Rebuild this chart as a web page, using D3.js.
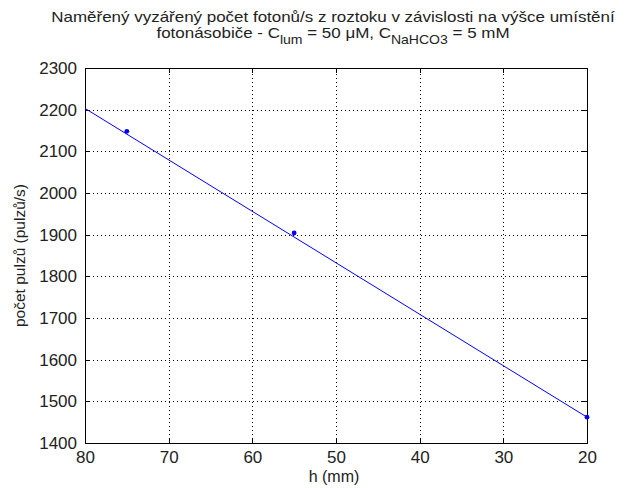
<!DOCTYPE html>
<meta charset="utf-8">
<head>
<script src="https://d3js.org/d3.v7.min.js"></script>
<style>
body { margin: 0; background: #fff; }
svg { font-family: "Liberation Sans", Arial, sans-serif; }
.grid line { stroke: #000; stroke-dasharray: 1,3; stroke-width: 1px; shape-rendering: crispEdges; }
.grid path { stroke-width: 0; }
.axis path, .axis line { stroke: #000; shape-rendering: crispEdges; }
.axis text { font-size: 17px; fill: #222; }
</style>
</head>
<body>
<svg></svg>
<script>
// measured points
var h_vals = [75, 55, 20];
var count_vals = [2148, 1904, 1462];
// fitted line ends
var fit_h = [80, 20];
var fit_counts = [2203, 1462];

var x_ticks = [80, 70, 60, 50, 40, 30, 20];
var y_ticks = [1400, 1500, 1600, 1700, 1800, 1900, 2000, 2100, 2200, 2300];

var margin = {left: 85, top: 68, right: 40, bottom: 45};
var width = 587 - margin.left;
var height = 443 - margin.top;

var svg = d3.select("svg").attr("width", 627).attr("height", 488);
var g = svg.append("g").attr("transform", "translate(" + margin.left + "," + margin.top + ")");

var x = d3.scaleLinear().domain([80, 20]).range([0, width]);
var y = d3.scaleLinear().domain([1400, 2300]).range([height, 0]);

// grid
g.append("g").attr("class", "grid")
    .attr("transform", "translate(0," + height + ")")
    .call(d3.axisBottom(x).tickValues(x_ticks).tickSize(-height).tickFormat(""));
g.append("g").attr("class", "grid")
    .call(d3.axisLeft(y).tickValues(y_ticks).tickSize(-width).tickFormat(""));

// axes (ticks inward)
g.append("g").attr("class", "axis")
    .attr("transform", "translate(0," + height + ")")
    .call(d3.axisBottom(x).tickValues(x_ticks).tickSizeInner(-5).tickSizeOuter(0).tickPadding(8).tickFormat(d3.format("d")));
g.append("g").attr("class", "axis")
    .call(d3.axisLeft(y).tickValues(y_ticks).tickSizeInner(-5).tickSizeOuter(0).tickPadding(8).tickFormat(d3.format("d")));
g.append("g").attr("class", "axis")
    .call(d3.axisTop(x).tickValues(x_ticks).tickSizeInner(-5).tickSizeOuter(0).tickFormat(""));
g.append("g").attr("class", "axis")
    .attr("transform", "translate(" + width + ",0)")
    .call(d3.axisRight(y).tickValues(y_ticks).tickSizeInner(-5).tickSizeOuter(0).tickFormat(""));

// fit line
g.append("line")
    .attr("x1", x(fit_h[0])).attr("y1", y(fit_counts[0]))
    .attr("x2", x(fit_h[1])).attr("y2", y(fit_counts[1]))
    .style("stroke", "#0000ff").style("stroke-width", "1px");

// points
g.selectAll(".dot").data(h_vals).enter().append("circle")
    .attr("cx", function(d) { return x(d); })
    .attr("cy", function(d, i) { return y(count_vals[i]); })
    .attr("r", 2.4)
    .style("fill", "#0000ff");

// title (stretched a bit sideways, like the narrow-tall original font)
var tg = svg.append("g").attr("transform", "translate(333,0) scale(1.17,1)")
    .style("font-size", "14.5px").style("fill", "#222");
tg.append("text").attr("x", 0).attr("y", 22)
    .attr("text-anchor", "middle")
    .text("Naměřený vyzářený počet fotonů/s z roztoku v závislosti na výšce umístění");
var t2 = tg.append("text").attr("x", 0).attr("y", 38)
    .attr("text-anchor", "middle");
t2.append("tspan").text("fotonásobiče - C");
t2.append("tspan").attr("dy", 6).style("font-size", "12px").text("lum");
t2.append("tspan").attr("dy", -6).text(" = 50 μM, C");
t2.append("tspan").attr("dy", 6).style("font-size", "12px").text("NaHCO3");
t2.append("tspan").attr("dy", -6).text(" = 5 mM");

// axis labels
svg.append("text").attr("x", 334).attr("y", 482)
    .attr("text-anchor", "middle").style("font-size", "16px").style("fill", "#222")
    .text("h (mm)");
svg.append("text")
    .attr("transform", "translate(25," + (margin.top + height / 2) + ") rotate(-90)")
    .attr("text-anchor", "middle").style("font-size", "15.5px").style("fill", "#222")
    .text("počet pulzů (pulzů/s)");
</script>
</body>
